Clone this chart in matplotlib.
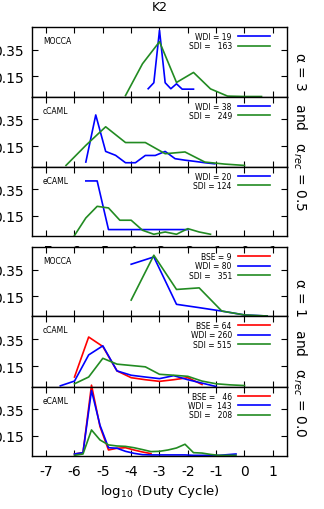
import numpy as np
import matplotlib
matplotlib.use("Agg")
import matplotlib.pyplot as plt

# ---- data ----
# alpha = 3, alpha_rec = 0.5
mocca3_wdi_x = [-3.4, -3.2, -3.0, -2.8, -2.6, -2.4, -2.2, -2.0, -1.8]
mocca3_wdi_y = [0.058, 0.103, 0.495, 0.103, 0.058, 0.095, 0.055, 0.055, 0.055]
mocca3_sdi_x = [-4.2, -3.6, -3.0, -2.4, -1.8, -1.2, -0.6, 0.0, 0.6]
mocca3_sdi_y = [0.007, 0.245, 0.41, 0.105, 0.18, 0.057, 0.003, 0.0, 0.0]

ccaml3_wdi_x = [-5.6, -5.25, -4.9, -4.55, -4.2, -3.85, -3.5, -3.15, -2.8, -2.45, -2.1, -1.75, -1.4, -1.05]
ccaml3_wdi_y = [0.033, 0.383, 0.112, 0.083, 0.028, 0.028, 0.082, 0.082, 0.112, 0.058, 0.047, 0.038, 0.028, 0.02]
ccaml3_sdi_x = [-6.3, -5.6, -4.9, -4.2, -3.5, -2.8, -2.1, -1.4, -0.7, 0.0]
ccaml3_sdi_y = [0.008, 0.157, 0.295, 0.178, 0.178, 0.095, 0.108, 0.033, 0.018, 0.008]

ecaml3_wdi_x = [-5.6, -5.2, -4.8, -4.4, -4.0, -3.6, -3.2, -2.8, -2.4, -2.0]
ecaml3_wdi_y = [0.412, 0.412, 0.048, 0.048, 0.048, 0.048, 0.048, 0.048, 0.048, 0.048]
ecaml3_sdi_x = [-6.0, -5.6, -5.2, -4.8, -4.4, -4.0, -3.6, -3.2, -2.8, -2.4, -2.0, -1.6, -1.2]
ecaml3_sdi_y = [0.004, 0.135, 0.222, 0.21, 0.118, 0.118, 0.043, 0.013, 0.03, 0.013, 0.055, 0.03, 0.013]

# alpha = 1, alpha_rec = 0.0
mocca1_wdi_x = [-4.0, -3.2, -2.4, -1.6, -0.8, 0.0, 0.8]
mocca1_wdi_y = [0.39, 0.445, 0.088, 0.063, 0.037, 0.008, 0.0]
mocca1_sdi_x = [-4.0, -3.2, -2.4, -1.6, -0.8, 0.0, 0.8]
mocca1_sdi_y = [0.12, 0.458, 0.2, 0.212, 0.037, 0.008, 0.0]

ccaml1_bse_x = [-6.0, -5.5, -5.0, -4.5, -4.0, -3.5, -3.0, -2.5, -2.0, -1.5]
ccaml1_bse_y = [0.07, 0.365, 0.295, 0.115, 0.065, 0.05, 0.038, 0.05, 0.065, 0.015]
ccaml1_wdi_x = [-6.5, -6.0, -5.5, -5.0, -4.5, -4.0, -3.5, -3.0, -2.5, -2.0, -1.5, -1.0]
ccaml1_wdi_y = [0.005, 0.04, 0.233, 0.30, 0.115, 0.083, 0.07, 0.058, 0.08, 0.05, 0.025, 0.0]
ccaml1_sdi_x = [-6.0, -5.5, -5.0, -4.5, -4.0, -3.5, -3.0, -2.5, -2.0, -1.5, -1.0, -0.5, 0.0]
ccaml1_sdi_y = [0.02, 0.07, 0.208, 0.165, 0.155, 0.145, 0.09, 0.083, 0.075, 0.04, 0.02, 0.012, 0.007]

ecaml1_bse_x = [-6.0, -5.7, -5.4, -5.1, -4.8, -4.5, -4.2, -3.9, -3.6, -3.3]
ecaml1_bse_y = [0.015, 0.025, 0.53, 0.22, 0.045, 0.058, 0.062, 0.045, 0.03, 0.018]
ecaml1_wdi_x = [-6.0, -5.7, -5.4, -5.1, -4.8, -4.5, -4.2, -3.9, -3.6, -3.3, -3.0, -2.7, -2.4, -2.1,
                -1.8, -1.5, -1.2, -0.9, -0.6, -0.3]
ecaml1_wdi_y = [0.015, 0.025, 0.49, 0.23, 0.062, 0.058, 0.035, 0.02, 0.01, 0.008, 0.008, 0.008, 0.008,
                0.008, 0.005, 0.005, 0.005, 0.005, 0.01, 0.015]
ecaml1_sdi_x = [-6.0, -5.7, -5.4, -5.1, -4.8, -4.5, -4.2, -3.9, -3.6, -3.3, -3.0, -2.7, -2.4, -2.1,
                -1.8, -1.5, -1.2, -0.9, -0.6, -0.3]
ecaml1_sdi_y = [0.005, 0.015, 0.195, 0.12, 0.083, 0.075, 0.072, 0.062, 0.048, 0.033, 0.035, 0.045, 0.06,
                0.088, 0.025, 0.022, 0.012, 0.005, 0.005, 0.005]

panel_names = ["MOCCA", "cCAML", "eCAML", "MOCCA", "cCAML", "eCAML"]
legend_texts = [
    ["WDI = 19", "SDI =   163"],
    ["WDI = 38", "SDI =   249"],
    ["WDI = 20", "SDI = 124"],
    ["BSE = 9", "WDI = 80", "SDI =   351"],
    ["BSE = 64", "WDI = 260", "SDI = 515"],
    ["BSE =   46", "WDI =  143", "SDI =   208"],
]
panel_series = [
    [(mocca3_wdi_x, mocca3_wdi_y, "wdi"), (mocca3_sdi_x, mocca3_sdi_y, "sdi")],
    [(ccaml3_wdi_x, ccaml3_wdi_y, "wdi"), (ccaml3_sdi_x, ccaml3_sdi_y, "sdi")],
    [(ecaml3_wdi_x, ecaml3_wdi_y, "wdi"), (ecaml3_sdi_x, ecaml3_sdi_y, "sdi")],
    [(None, None, "bse"), (mocca1_wdi_x, mocca1_wdi_y, "wdi"), (mocca1_sdi_x, mocca1_sdi_y, "sdi")],
    [(ccaml1_bse_x, ccaml1_bse_y, "bse"), (ccaml1_wdi_x, ccaml1_wdi_y, "wdi"), (ccaml1_sdi_x, ccaml1_sdi_y, "sdi")],
    [(ecaml1_bse_x, ecaml1_bse_y, "bse"), (ecaml1_wdi_x, ecaml1_wdi_y, "wdi"), (ecaml1_sdi_x, ecaml1_sdi_y, "sdi")],
]
xticks = [-7, -6, -5, -4, -3, -2, -1, 0, 1]
yticks = [0.15, 0.35]

colors = {"bse": "#ff0000", "wdi": "#0000ff", "sdi": "#228b22"}

W, H = 324, 510
fig = plt.figure(figsize=(W / 100, H / 100), dpi=100)

# panel boxes in pixels (top, bottom)
boxes = [(28, 97.5), (97.5, 167.5), (167.5, 237), (248, 317), (317, 387.5), (387.5, 457)]
left, right = 32, 287

axes = []
for i, (top, bot) in enumerate(boxes):
    ax = fig.add_axes([left / W, 1 - bot / H, (right - left) / W, (bot - top) / H])
    axes.append(ax)
    handles = []
    for x, y, key in panel_series[i]:
        if x is None:
            h, = ax.plot([], [], color=colors[key], lw=1.2)
        else:
            h, = ax.plot(x, y, color=colors[key], lw=1.2, clip_on=False)
        handles.append(h)
    ax.set_xlim(-7.5, 1.5)
    ax.set_ylim(0, 0.52)
    ax.set_xticks(xticks)
    ax.set_yticks(yticks)
    ax.set_yticklabels(["0.15", "0.35"], fontsize=10)
    ax.tick_params(direction="in", top=True, right=True, length=4.5, width=0.8, pad=6)
    if i in (2, 5):
        ax.set_xticklabels([str(t) for t in xticks], fontsize=10)
    else:
        ax.set_xticklabels([])
    for s in ax.spines.values():
        s.set_linewidth(1.0)
    ax.text(11 / (right - left), 1 - 14 / (bot - top), panel_names[i], transform=ax.transAxes,
            fontsize=5.5, va="center", ha="left")
    ax.legend(handles, legend_texts[i], loc="upper right", frameon=False, markerfirst=False,
              fontsize=5.5, handlelength=4.2, handletextpad=0.8, labelspacing=0.05,
              borderaxespad=0, borderpad=0,
              bbox_to_anchor=(1 - 17 / (right - left), 1 - 5 / (bot - top)))

axes[-1].set_xlabel("log$_{10}$ (Duty Cycle)", fontsize=9.5, labelpad=3)
fig.text(159.5 / W, 1 - 8 / H, "K2", ha="center", va="center", fontsize=9)

fig.text(300 / W, 1 - 132 / H, "α = 3   and   α$_{rec}$ = 0.5", rotation=270,
         ha="center", va="center", fontsize=10)
fig.text(300 / W, 1 - 358 / H, "α = 1   and   α$_{rec}$ = 0.0", rotation=270,
         ha="center", va="center", fontsize=10)

fig.savefig("out.png", dpi=100)
